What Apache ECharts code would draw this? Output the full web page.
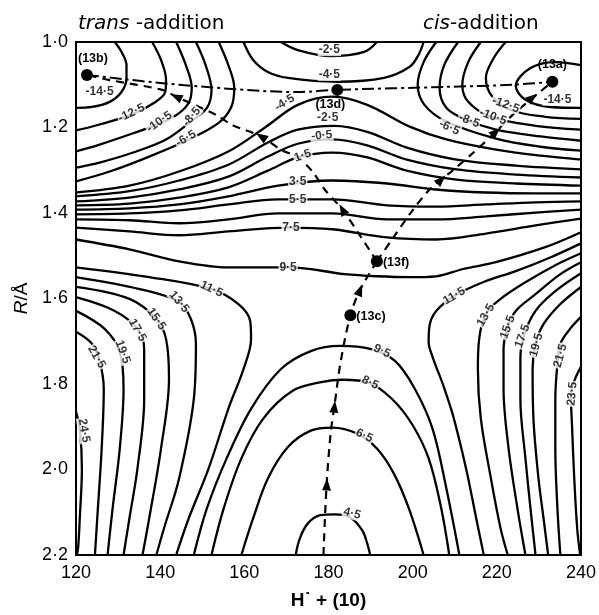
<!DOCTYPE html>
<html><head><meta charset="utf-8">
<script src="https://cdn.jsdelivr.net/npm/echarts@6/dist/echarts.min.js"></script>
<style>html,body{margin:0;padding:0;background:#fff}#c{width:599px;height:615px}</style>
</head><body><div id="c"></div><script>
// tick labels
const xTicks = ['120','140','160','180','200','220','240'];
const yTicks = ['1·0','1·2','1·4','1·6','1·8','2·0','2·2'];

// contour lines: [H-angle, R/Å]
const cM145L = [[129.2,1.000],[130.8,1.023],[132.0,1.054],[132.0,1.084],[130.8,1.117],[128.0,1.140],[123.8,1.152],[120,1.154]];
const cM125L = [[138.1,1.000],[140.2,1.042],[141.4,1.089],[141.2,1.117],[138.6,1.142],[133.2,1.170],[125.6,1.193],[120,1.207]];
const cM105L = [[143.8,1.000],[146.1,1.054],[147.5,1.107],[146.8,1.142],[144.0,1.170],[139.8,1.191],[133.4,1.214],[125.6,1.240],[120,1.256]];
const cM85L = [[148.5,1.000],[150.8,1.054],[152.2,1.112],[151.1,1.154],[147.3,1.186],[141.4,1.228],[133.4,1.259],[125.6,1.282],[120,1.294]];
const cM65L = [[153.9,1.000],[156.2,1.054],[157.6,1.107],[156.9,1.152],[153.9,1.189],[146.8,1.228],[137.4,1.268],[128.0,1.303],[120,1.326]];
const cM45U = [[159.8,1.000],[162.1,1.042],[165.6,1.070],[170.4,1.084],[182.1,1.093],[193.2,1.084],[199.3,1.058],[201.4,1.030],[202.6,1.000]];
const cM25U = [[168.7,1.000],[172.7,1.019],[180.5,1.033],[188.5,1.023],[191.5,1.000]];
const cM45 = [[120,1.352],[132.7,1.336],[144.5,1.303],[156.2,1.256],[164.9,1.200],[172.7,1.147],[180.9,1.128],[189.2,1.147],[199.3,1.198],[208.0,1.228],[219.8,1.252],[230.4,1.266],[240,1.275]];
const cM25 = [[120,1.361],[132.7,1.349],[144.5,1.324],[156.2,1.287],[165.6,1.235],[172.7,1.205],[181.4,1.196],[189.2,1.210],[198.6,1.247],[210.4,1.275],[224.5,1.289],[240,1.298]];
const cM05 = [[120,1.373],[132.7,1.364],[144.5,1.345],[156.2,1.315],[165.6,1.268],[172.7,1.238],[180.9,1.228],[189.2,1.242],[198.6,1.275],[210.4,1.298],[224.5,1.310],[240,1.317]];
const cP15 = [[120,1.382],[132.7,1.378],[144.5,1.364],[156.2,1.340],[165.6,1.301],[172.7,1.270],[180.9,1.259],[189.2,1.270],[198.6,1.301],[210.4,1.322],[224.5,1.331],[240,1.336]];
const cP35 = [[120,1.392],[132.7,1.389],[144.5,1.380],[156.2,1.361],[168.0,1.336],[180.9,1.324],[193.9,1.331],[205.6,1.345],[217.4,1.352],[229.2,1.354],[240,1.354]];
const cP55 = [[120,1.403],[132.7,1.401],[144.5,1.394],[156.2,1.380],[168.0,1.368],[180.9,1.368],[193.9,1.382],[205.6,1.385],[217.4,1.380],[229.2,1.375],[240,1.373]];
const cP65 = [[120,1.415],[132.7,1.417],[144.5,1.424],[156.2,1.415],[168.0,1.401],[180.9,1.401],[193.9,1.415],[205.6,1.415],[217.4,1.408],[229.2,1.399],[240,1.392]];
const cP75 = [[120,1.434],[132.7,1.443],[144.5,1.452],[156.2,1.443],[170.4,1.434],[180.9,1.438],[193.9,1.457],[205.6,1.462],[217.4,1.448],[229.2,1.429],[240,1.413]];
const cP95 = [[120,1.462],[132.7,1.485],[144.5,1.513],[156.2,1.527],[170.8,1.527],[183.8,1.543],[191.5,1.548],[199.3,1.550],[205.6,1.548],[212.0,1.531],[219.8,1.515],[231.5,1.480],[240,1.445]];
const cP115L = [[120,1.527],[137.4,1.550],[152.2,1.578],[158.6,1.613],[161.4,1.653],[161.6,1.695],[159.8,1.765],[156.2,1.858],[151.5,1.998],[146.8,2.114],[143.8,2.200]];
const cP135L = [[120,1.550],[135.1,1.578],[144.5,1.608],[147.3,1.648],[148.5,1.706],[148.0,1.835],[144.5,2.021],[140.9,2.138],[139.1,2.200]];
const cP155L = [[120,1.573],[132.7,1.601],[139.1,1.648],[141.4,1.695],[142.1,1.788],[140.2,1.951],[137.4,2.114],[135.8,2.200]];
const cP175L = [[120,1.597],[129.2,1.629],[134.6,1.671],[136.2,1.718],[136.2,1.835],[134.6,1.998],[132.7,2.114],[131.3,2.200]];
const cP195L = [[120,1.629],[126.8,1.671],[130.4,1.725],[131.3,1.811],[130.4,1.951],[128.7,2.091],[127.5,2.200]];
const cP215L = [[120,1.678],[123.8,1.706],[125.6,1.746],[126.6,1.811],[126.1,1.951],[125.2,2.091],[124.5,2.200]];
const cP245L = [[120,1.865],[120.9,1.904],[121.4,1.998],[120.9,2.114],[120.5,2.184],[120.2,2.200]];
const cP115R = [[240,1.471],[232.7,1.504],[224.5,1.536],[216.7,1.562],[209.9,1.594],[205.6,1.629],[204.0,1.664],[203.8,1.702],[204.9,1.741],[207.3,1.804],[209.6,1.874],[212.7,1.998],[215.1,2.114],[216.9,2.200]];
const cP135R = [[240,1.494],[233.9,1.522],[226.8,1.562],[220.9,1.601],[217.4,1.636],[215.8,1.695],[215.5,1.765],[216.2,1.881],[218.6,2.021],[220.9,2.138],[222.6,2.200]];
const cP155R = [[240,1.515],[235.1,1.543],[229.2,1.590],[224.5,1.629],[222.6,1.667],[221.6,1.718],[221.6,1.811],[222.8,1.951],[224.9,2.091],[226.8,2.200]];
const cP175R = [[240,1.541],[233.9,1.583],[229.2,1.629],[226.4,1.688],[225.6,1.741],[225.6,1.835],[226.8,1.974],[228.0,2.091],[229.2,2.200]];
const cP195R = [[240,1.573],[235.1,1.613],[231.1,1.660],[229.2,1.706],[228.5,1.765],[228.7,1.881],[229.9,2.021],[231.1,2.114],[232.2,2.200]];
const cP215R = [[240,1.643],[237.4,1.671],[235.1,1.706],[234.4,1.753],[233.9,1.835],[233.9,1.951],[234.4,2.091],[235.1,2.200]];
const cP235R = [[240,1.760],[238.6,1.788],[237.6,1.823],[237.9,1.904],[238.4,2.021],[239.1,2.138],[239.8,2.200]];
const cP95B = [[148.0,2.200],[151.1,2.091],[155.8,1.974],[161.6,1.858],[168.7,1.765],[175.8,1.723],[182.8,1.711],[189.9,1.718],[195.8,1.746],[200.5,1.811],[204.7,1.904],[208.0,2.044],[211.1,2.200]];
const cP85B = [[152.2,2.200],[155.1,2.091],[159.3,1.974],[164.5,1.881],[171.5,1.816],[178.6,1.795],[183.3,1.790],[189.6,1.797],[195.1,1.835],[199.8,1.893],[203.8,1.974],[206.8,2.091],[208.7,2.200]];
const cP65B = [[159.3,2.200],[162.1,2.114],[165.6,2.021],[170.4,1.947],[175.8,1.909],[180.9,1.902],[186.8,1.916],[191.5,1.951],[195.5,2.009],[199.1,2.091],[202.6,2.200]];
const cP45B = [[172.2,2.200],[173.2,2.161],[175.1,2.126],[178.1,2.107],[181.4,2.105],[185.2,2.112],[188.0,2.142],[189.2,2.173],[189.9,2.200]];
const cM145R = [[240,1.054],[233.9,1.047],[228.0,1.061],[224.5,1.103],[226.8,1.135],[232.7,1.152],[240,1.154]];
const cM125R = [[222.1,1.000],[219.3,1.037],[217.4,1.084],[218.8,1.126],[223.3,1.159],[231.5,1.175],[240,1.180]];
const cM105R = [[216.2,1.000],[213.2,1.047],[211.8,1.100],[213.2,1.140],[218.6,1.175],[229.2,1.196],[240,1.205]];
const cM85R = [[210.8,1.000],[207.5,1.054],[206.4,1.107],[208.0,1.154],[212.7,1.182],[219.8,1.205],[230.4,1.221],[240,1.231]];
const cM65R = [[205.6,1.000],[202.6,1.047],[201.2,1.100],[202.8,1.147],[208.0,1.186],[219.8,1.226],[230.4,1.245],[240,1.254]];

// reaction paths
const pathCentral = [[178.8,2.200],[179.5,2.044],[180.5,1.916],[181.4,1.853],[182.8,1.753],[185.2,1.639],[187.5,1.580],[191.5,1.513]];
const pathTrans = [[191.5,1.513],[187.3,1.450],[183.3,1.392],[179.1,1.345],[176.2,1.303],[172.7,1.270],[168.7,1.252],[164.0,1.221],[156.9,1.193],[153.2,1.170],[143.8,1.128],[140.5,1.112],[128.0,1.089],[122.6,1.077]];
const pathCis = [[191.5,1.513],[195.1,1.462],[199.8,1.396],[204.5,1.340],[209.2,1.303],[214.4,1.259],[219.8,1.210],[224.0,1.168],[228.0,1.135],[233.2,1.093]];
const pathRidge = [[122.6,1.077],[144.5,1.100],[172.7,1.117],[182.1,1.112],[208.0,1.105],[223.8,1.100],[233.2,1.093]];

// arrow heads: [behind x, behind y, head x, head y]
const arrows = [[179.3,2.10,179.6,2.035],[180.9,1.90,181.4,1.853],[186.3,1.61,187.5,1.580],
  [185.5,1.43,183.3,1.392],[168.7,1.252,164.0,1.221],[150.4,1.159,143.8,1.128],
  [204.5,1.345,206.8,1.322],[217.0,1.235,219.8,1.210],[226.0,1.150,228.5,1.130]];

// stationary points
const pointNames = ['(13a)','(13b)','(13c)','(13d)','(13f)'];
const pointX = [233.2,122.6,185.2,182.1,191.5];
const pointY = [1.093,1.077,1.639,1.112,1.513];

// contour labels [x, y, text, angle]
const contourLabels = [
  [180.2,1.019,'-2·5',0],[180.2,1.077,'-4·5',0],[169.6,1.142,'-4·5',32],[179.8,1.177,'-2·5',0],
  [178.4,1.219,'-0·5',5],[173.9,1.266,'1·5',20],[172.7,1.326,'3·5',0],[172.7,1.368,'5·5',0],
  [171.1,1.434,'7·5',0],[170.4,1.527,'9·5',0],
  [152.2,1.578,'11·5',-25],[144.5,1.608,'13·5',-50],[139.1,1.648,'15·5',-55],[134.6,1.674,'17·5',-60],
  [131.1,1.725,'19·5',-70],[124.9,1.737,'21·5',-60],[121.9,1.909,'24·5',-80],
  [125.6,1.117,'-14·5',0],[133.2,1.166,'-12·5',25],[139.8,1.187,'-10·5',35],[147.5,1.175,'-8·5',50],[146.1,1.226,'-6·5',30],
  [234.4,1.135,'-14·5',0],[222.1,1.147,'-12·5',-20],[219.1,1.175,'-10·5',-20],[213.4,1.184,'-8·5',-20],[208.7,1.200,'-6·5',-25],
  [209.9,1.594,'11·5',30],[217.4,1.639,'13·5',60],[222.6,1.667,'15·5',70],[226.1,1.688,'17·5',70],
  [229.4,1.709,'19·5',75],[235.1,1.734,'21·5',75],[237.9,1.823,'23·5',85],
  [192.7,1.723,'9·5',-25],[189.9,1.797,'8·5',-25],[188.5,1.921,'6·5',-25],[185.6,2.103,'4·5',-15]
];

const contours = [cM145L,cM125L,cM105L,cM85L,cM65L,cM45U,cM25U,cM45,cM25,cM05,cP15,cP35,cP55,cP65,cP75,cP95,
  cP115L,cP135L,cP155L,cP175L,cP195L,cP215L,cP245L,cP115R,cP135R,cP155R,cP175R,cP195R,cP215R,cP235R,
  cP95B,cP85B,cP65B,cP45B,cM145R,cM125R,cM105R,cM85R,cM65R];

const FONT = 'Liberation Sans, Arial, sans-serif';
const TFONT = 'DejaVu Sans, sans-serif';
const chart = echarts.init(document.getElementById('c'), null, {renderer:'canvas'});

const series = [];
contours.forEach(c => series.push({type:'line', data:c, smooth:0.35, symbol:'none', silent:true, z:2,
  lineStyle:{color:'#000', width:2.3}}));
[pathCentral, pathTrans, pathCis].forEach(p => series.push({type:'line', data:p, smooth:0.3, symbol:'none', z:3,
  lineStyle:{color:'#000', width:2.2, type:[8,6]}}));
series.push({type:'line', data:pathRidge, smooth:0.3, symbol:'none', z:3, lineStyle:{color:'#000', width:2, type:[12,4,3,4]}});

const labelPos = {'(13a)':['top',[0,-3]],'(13b)':['top',[6,-2]],'(13c)':['right',[-2,1]],'(13d)':['bottom',[-7,0]],'(13f)':['right',[-2,1]]};
const ptLabel = {color:'#000', fontSize:12.5, fontWeight:'bold', fontFamily:FONT, distance:2};
series.push({type:'scatter', symbol:'circle', symbolSize:12, z:6, itemStyle:{color:'#000', opacity:1},
  data: pointNames.map((n,i)=>({value:[pointX[i],pointY[i]], name:n,
    label:Object.assign({show:true, formatter:n, position:labelPos[n][0], offset:labelPos[n][1]}, ptLabel)})),
  label:ptLabel});

series.push({type:'scatter', symbolSize:0, z:5, silent:true,
  data: contourLabels.map(l=>({value:[l[0],l[1]], label:{formatter:l[2], rotate:l[3]}})),
  label:{show:true, position:'inside', color:'#000', fontSize:12, fontWeight:'bold', fontFamily:FONT,
    backgroundColor:'#fff', padding:[0,1]}});

const arrowSeriesIndex = series.length;
series.push({type:'scatter', symbol:'triangle', symbolSize:[9,12], z:4, itemStyle:{color:'#000', opacity:1},
  data: arrows.map(a=>({value:[a[2],a[3]], symbolRotate:0}))});

const titleStyle = {fontSize:20, fontWeight:'normal', color:'#000', fontFamily:TFONT,
  rich:{i:{fontStyle:'italic', fontSize:20, fontFamily:TFONT, color:'#000'}, n:{fontSize:20, fontFamily:TFONT, color:'#000'}}};
chart.setOption({
  animation:false,
  backgroundColor:'#fff',
  title:[
    {text:'{i|trans}{n| -addition}', left:73, top:9, textStyle:titleStyle},
    {text:'{i|cis}{n|-addition}', left:418, top:9, textStyle:titleStyle}
  ],
  grid:{left:76, right:13, top:42, bottom:58, show:true, borderColor:'#000', borderWidth:2, containLabel:false},
  xAxis:{type:'value', min:120, max:240, interval:20,
    axisLine:{show:true, lineStyle:{color:'#000', width:2}}, axisTick:{show:false}, splitLine:{show:false},
    axisLabel:{color:'#000', fontSize:18, fontFamily:FONT, margin:9,
      formatter:v=>xTicks[Math.round((v-120)/20)]},
    name:'H˙ + (10)', nameLocation:'middle', nameGap:36,
    nameTextStyle:{color:'#000', fontSize:19, fontWeight:'bold', fontFamily:FONT}},
  yAxis:{type:'value', min:1.0, max:2.2, interval:0.2, inverse:true,
    axisLine:{show:true, lineStyle:{color:'#000', width:2}}, axisTick:{show:false}, splitLine:{show:false},
    axisLabel:{color:'#000', fontSize:18, fontFamily:FONT, margin:8,
      formatter:v=>yTicks[Math.round((v-1)/0.2)]},
    name:'{i|R}/Å', nameLocation:'middle', nameGap:45, nameRotate:90,
    nameTextStyle:{color:'#000', fontSize:19, fontFamily:FONT,
      rich:{i:{fontStyle:'italic', fontSize:19, fontFamily:FONT, color:'#000'}}}},
  series: series
});

// orient arrowheads along the path direction in screen space
const rotData = arrows.map(a=>{
  const p0 = chart.convertToPixel({gridIndex:0},[a[0],a[1]]);
  const p1 = chart.convertToPixel({gridIndex:0},[a[2],a[3]]);
  const dx = p1[0]-p0[0], dy = p1[1]-p0[1];
  const ang = Math.atan2(-dx, -dy)*180/Math.PI;
  return {value:[a[2],a[3]], symbolRotate:ang};
});
const upd = series.map(()=>({}));
upd[arrowSeriesIndex] = {data:rotData};
chart.setOption({series:upd});
</script></body></html>
